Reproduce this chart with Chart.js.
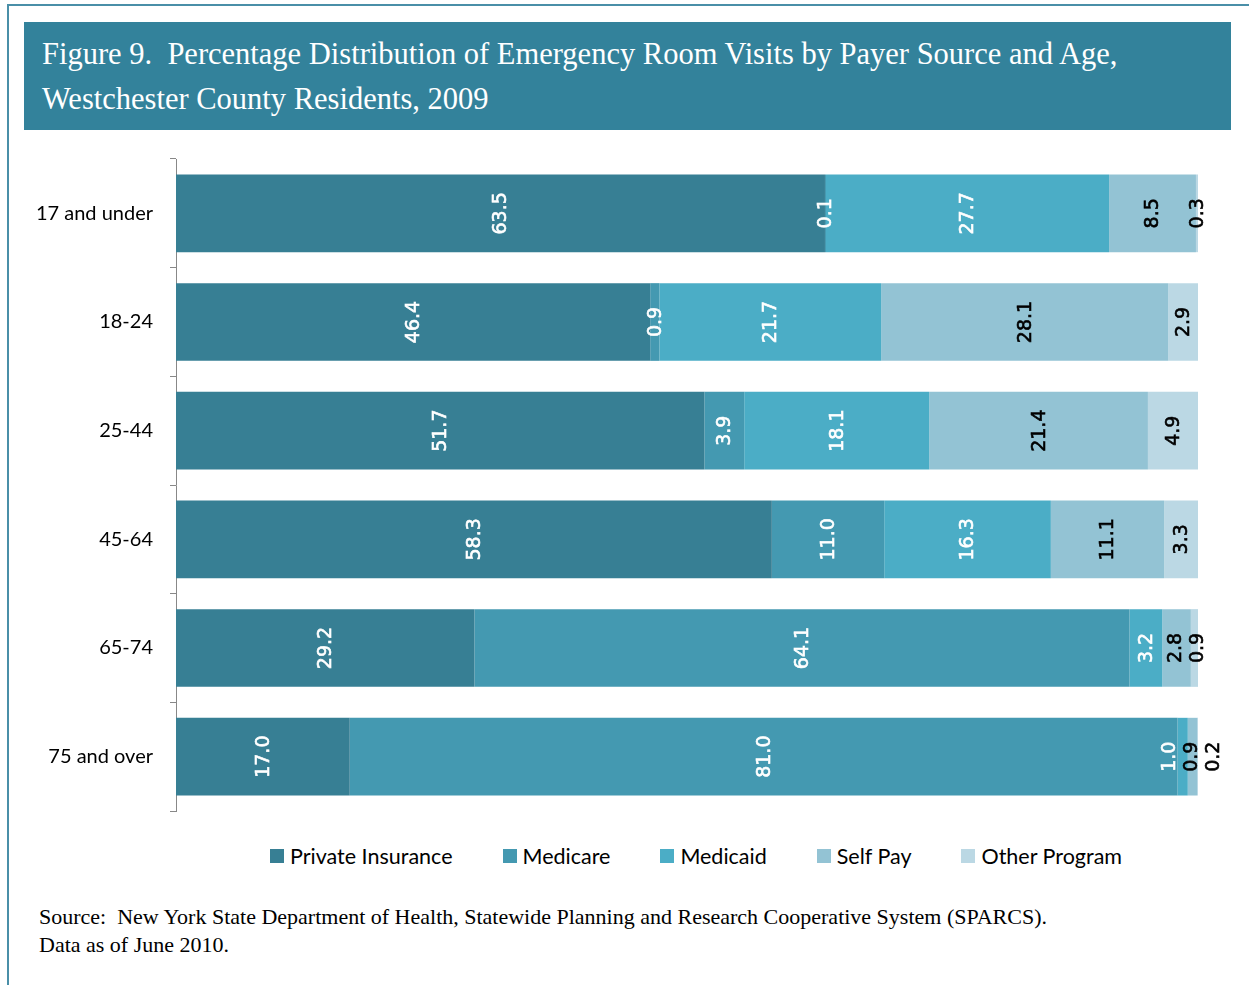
<!DOCTYPE html>
<html>
<head>
<meta charset="utf-8">
<script src="https://cdn.jsdelivr.net/npm/chart.js@4.4.1/dist/chart.umd.min.js"></script>
<style>
  body { margin: 0; width: 1249px; height: 985px; overflow: hidden; background: #fff; position: relative; }
  #frame { position: absolute; left: 7px; top: 4px; width: 1300px; height: 1100px;
           border-top: 2px solid #4a8fa8; border-left: 2px solid #4a8fa8; }
  #title { position: absolute; left: 24px; top: 22px; width: 1207px; height: 108px; box-sizing: border-box;
           background: #33829b; color: #fff; font-family: "Liberation Serif", serif; font-size: 30.5px;
           line-height: 45px; padding: 10px 0 0 18px; white-space: pre; }
  #wrap { position: absolute; left: 0; top: 130px; width: 1249px; height: 710px; }
  #legend { position: absolute; left: 176px; top: 844px; width: 1040px; height: 24px; display: flex;
            justify-content: center; align-items: center; font-family: Lato, sans-serif; font-size: 21.5px; color: #000; }
  #legend .item { display: flex; align-items: center; margin: 0 25px; }
  #legend .box { width: 14px; height: 14px; margin-right: 6px; }
  #source { position: absolute; left: 39px; top: 903px; font-family: "Liberation Serif", serif; font-size: 22px;
            line-height: 28px; color: #000; white-space: pre; }
</style>
</head>
<body>
<div id="frame"></div>
<div id="title">Figure 9.  Percentage Distribution of Emergency Room Visits by Payer Source and Age,
Westchester County Residents, 2009</div>
<div id="wrap"><canvas id="chart"></canvas></div>
<div id="legend"></div>
<div id="source">Source:  New York State Department of Health, Statewide Planning and Research Cooperative System (SPARCS).
Data as of June 2010.</div>
<script>
// age groups, top to bottom
var ageGroups = ["17 and under", "18-24", "25-44", "45-64", "65-74", "75 and over"];

// percent of ER visits per payer, one value per age group
var privateInsurance = [63.5, 46.4, 51.7, 58.3, 29.2, 17.0];
var medicare         = [0.1, 0.9, 3.9, 11.0, 64.1, 81.0];
var medicaid         = [27.7, 21.7, 18.1, 16.3, 3.2, 1.0];
var selfPay          = [8.5, 28.1, 21.4, 11.1, 2.8, 0.9];
var otherProgram     = [0.3, 2.9, 4.9, 3.3, 0.9, 0.2];

var payers = ["Private Insurance", "Medicare", "Medicaid", "Self Pay", "Other Program"];
var colors = ["#377f94", "#4499b1", "#4badc6", "#93c3d4", "#bbd8e4"];
var labelColors = ["#fff", "#fff", "#fff", "#000", "#000"];

var series = [privateInsurance, medicare, medicaid, selfPay, otherProgram];

// Draws rotated value labels inside each segment, spreading crowded ones apart
var valueLabels = {
    id: "valueLabels",
    afterDatasetsDraw: function(chart) {
        var ctx = chart.ctx;
        var gap = 22;
        ctx.save();
        ctx.font = "19px 'DejaVu Sans'";
        ctx.textAlign = "center";
        ctx.textBaseline = "middle";
        ctx.lineWidth = 0.6;
        for (var row = 0; row < ageGroups.length; row++) {
            var items = [];
            chart.data.datasets.forEach(function(ds, i) {
                var bar = chart.getDatasetMeta(i).data[row];
                items.push({ c: (bar.x + bar.base) / 2, y: bar.y, text: ds.data[row].toFixed(1), color: labelColors[i] });
            });
            // group overlapping labels into clusters centred on their mean
            var clusters = [];
            items.forEach(function(it) {
                clusters.push({ list: [it], mean: it.c });
                while (clusters.length > 1) {
                    var a = clusters[clusters.length - 2], b = clusters[clusters.length - 1];
                    var aEnd = a.mean + (a.list.length - 1) * gap / 2;
                    var bStart = b.mean - (b.list.length - 1) * gap / 2;
                    if (bStart - aEnd >= gap) break;
                    var list = a.list.concat(b.list);
                    var sum = 0;
                    list.forEach(function(l) { sum += l.c; });
                    clusters.splice(clusters.length - 2, 2, { list: list, mean: sum / list.length });
                }
            });
            clusters.forEach(function(cl) {
                cl.list.forEach(function(it, k) {
                    var x = cl.mean + (k - (cl.list.length - 1) / 2) * gap;
                    ctx.save();
                    ctx.translate(x, it.y);
                    ctx.rotate(-Math.PI / 2);
                    ctx.fillStyle = it.color;
                    ctx.strokeStyle = it.color;
                    ctx.fillText(it.text, 0, 1);
                    ctx.strokeText(it.text, 0, 1);
                    ctx.restore();
                });
            });
        }
        ctx.restore();
    }
};

var datasets = payers.map(function(name, i) {
    return {
        label: name,
        data: series[i],
        backgroundColor: colors[i],
        borderWidth: 0,
        barPercentage: 0.715,
        categoryPercentage: 1.0
    };
});

new Chart(document.getElementById("chart"), {
    type: "bar",
    data: { labels: ageGroups, datasets: datasets },
    plugins: [valueLabels],
    options: {
        indexAxis: "y",
        responsive: true,
        maintainAspectRatio: false,
        animation: false,
        layout: { padding: { top: 18, bottom: 18, left: 0, right: 51 } },
        plugins: { legend: { display: false }, tooltip: { enabled: false } },
        scales: {
            x: { stacked: true, display: false, min: 0, max: 100 },
            y: {
                stacked: true,
                afterFit: function(scale) { scale.width = 176; },
                grid: { offset: true, drawOnChartArea: false, tickLength: 6, color: "#888", lineWidth: 1 },
                border: { display: true, color: "#888", width: 1 },
                ticks: { padding: 17, color: "#000", font: { family: "Lato", size: 20 } }
            }
        }
    }
});

// HTML legend built from the same payer arrays
var legend = document.getElementById("legend");
payers.forEach(function(name, i) {
    var item = document.createElement("div");
    item.className = "item";
    item.innerHTML = '<span class="box" style="background:' + colors[i] + '"></span><span>' + name + '</span>';
    legend.appendChild(item);
});
</script>
</body>
</html>
